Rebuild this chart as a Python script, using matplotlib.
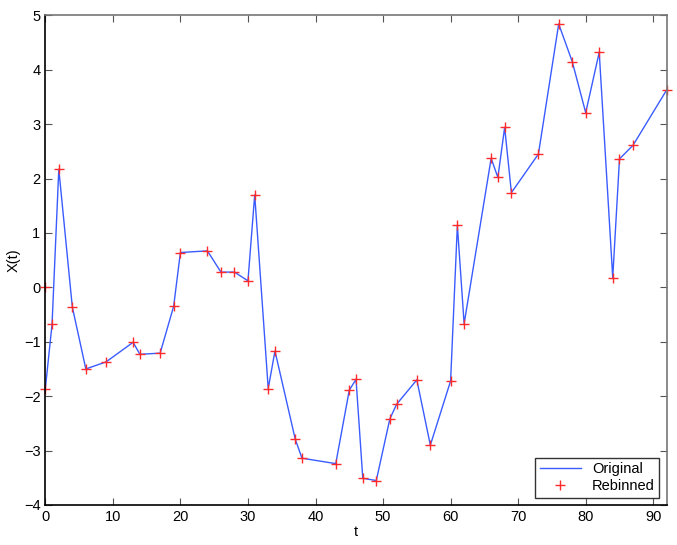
import matplotlib
matplotlib.use('Agg')
import matplotlib.pyplot as plt

# original series (line)
t_orig = [0, 1, 2, 4, 6, 9, 13, 14, 17, 19, 20, 24, 26, 28, 30, 31, 33, 34, 37, 38,
          43, 45, 46, 47, 49, 51, 52, 55, 57, 60, 61, 62, 66, 67, 68, 69, 73, 76, 78,
          80, 82, 84, 85, 87, 92]
x_orig = [-1.87, -0.68, 2.17, -0.36, -1.50, -1.37, -1.01, -1.23, -1.21, -0.35, 0.64,
          0.67, 0.28, 0.28, 0.12, 1.70, -1.86, -1.17, -2.79, -3.14, -3.24, -1.89, -1.69,
          -3.51, -3.55, -2.42, -2.15, -1.70, -2.90, -1.72, 1.14, -0.67, 2.37, 2.02, 2.94,
          1.74, 2.45, 4.84, 4.15, 3.21, 4.32, 0.18, 2.36, 2.61, 3.63]

# rebinned points (markers)
t_rebin = [0] + t_orig
x_rebin = [0.0] + x_orig

plt.rcParams['font.family'] = ['Liberation Sans', 'DejaVu Sans']

fig = plt.figure(figsize=(6.77, 5.45), dpi=100)
ax = fig.add_axes([0.0669, 0.0734, 0.918, 0.8986])

ax.plot(t_orig, x_orig, color='#3a5cff', linewidth=1.0, label='Original')
ax.plot(t_rebin, x_rebin, linestyle='none', marker='+', color='#ff2a2a',
        markersize=7, markeredgewidth=1.0, label='Rebinned', clip_on=False)

ax.set_xlim(0, 92)
ax.set_ylim(-4, 5)
ax.set_xticks(range(0, 91, 10))
ax.set_yticks(range(-4, 6))
ax.set_yticklabels(['\u22124', '\u22123', '\u22122', '\u22121', '0', '1', '2', '3', '4', '5'])
ax.tick_params(direction='in', top=True, right=True, labelsize=10.5, length=5,
               width=0.8, colors='#555555', labelcolor='black')
for side in ['left', 'bottom']:
    ax.spines[side].set_color('black')
    ax.spines[side].set_linewidth(1.2)
for side in ['top', 'right']:
    ax.spines[side].set_color('#777777')
    ax.spines[side].set_linewidth(1.2)

ax.set_xlabel('t', fontsize=10.5, labelpad=1)
ax.set_ylabel('X(t)', fontsize=10.5, labelpad=2)

leg = ax.legend(loc='lower right', fontsize=10.5, fancybox=False, framealpha=1,
                edgecolor='#333333', borderpad=0.3, handlelength=2.8,
                borderaxespad=0.5, labelspacing=0.2)
leg.get_frame().set_linewidth(1.0)

fig.savefig('out.png', dpi=100)
